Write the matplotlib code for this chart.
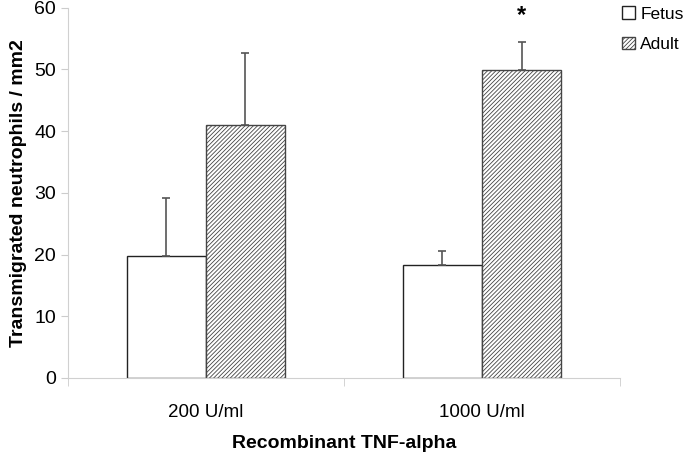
import matplotlib.pyplot as plt
from matplotlib.patches import Patch
import numpy as np

plt.rcParams['font.family'] = ['Liberation Sans', 'DejaVu Sans']
plt.rcParams['hatch.linewidth'] = 0.6

doses = ["200 U/ml", "1000 U/ml"]
fetus = [19.8, 18.3]
fetus_err = [9.4, 2.3]
adult = [41.0, 49.9]
adult_err = [11.7, 4.5]

fig = plt.figure(figsize=(6.85, 4.57), dpi=100)
ax = fig.add_axes([0.099, 0.173, 0.806, 0.81])

x = np.arange(len(doses))
w = 0.287
ax.bar(x - w / 2, fetus, w, color='white', edgecolor='#222222', linewidth=1.0,
       yerr=[[0, 0], fetus_err], error_kw=dict(ecolor='#555555', capsize=3, elinewidth=1.2, capthick=1.2))
ax.bar(x + w / 2, adult, w, color='white', edgecolor='#444444', linewidth=1.0, hatch='////////',
       yerr=[[0, 0], adult_err], error_kw=dict(ecolor='#555555', capsize=3, elinewidth=1.2, capthick=1.2))

# significance marker
ax.text(x[1] + w / 2, adult[1] + adult_err[1] + 4.3, '*', ha='center', va='center',
        fontsize=17, fontweight='bold', clip_on=False)

ax.set_xlim(-0.5, 1.5)
ax.set_ylim(0, 60)
ax.set_yticks(range(0, 61, 10))
ax.set_xticks(x)
ax.set_xticklabels(doses, fontsize=13.5)
ax.set_xticks([-0.5, 0.5, 1.5], minor=True)
ax.tick_params(axis='x', which='major', length=0, pad=19)
ax.tick_params(axis='x', which='minor', length=6, color='#cccccc')
ax.tick_params(axis='y', labelsize=14, color='#cccccc', length=5)

for s in ['top', 'right']:
    ax.spines[s].set_visible(False)
for s in ['left', 'bottom']:
    ax.spines[s].set_color('#d0d0d0')

ax.set_ylabel('Transmigrated neutrophils / mm2', fontsize=14, fontweight='bold', labelpad=5)
ax.set_xlabel('Recombinant TNF-alpha', fontsize=14, fontweight='bold', labelpad=10)

handles = [Patch(facecolor='white', edgecolor='#222222', label='Fetus'),
           Patch(facecolor='white', edgecolor='#444444', hatch='////////', label='Adult')]
fig.legend(handles=handles, loc='upper right', bbox_to_anchor=(0.998, 0.986), frameon=False,
           fontsize=12.5, handlelength=0.75, handleheight=0.75, handletextpad=0.3,
           labelspacing=0.85, borderaxespad=0, borderpad=0)

fig.savefig('out.png', dpi=100)
